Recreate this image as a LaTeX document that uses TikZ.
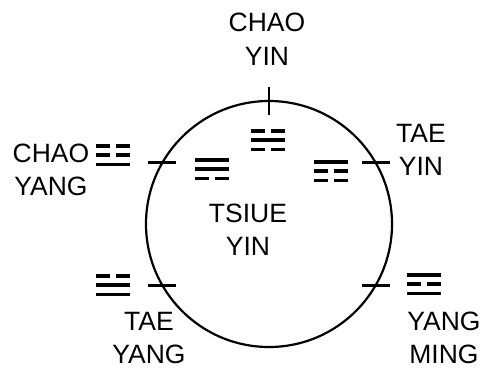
\documentclass[tikz,border=0pt]{standalone}
\usepackage{fontspec}
\setmainfont{Liberation Sans}
\usetikzlibrary{calc}

% one trigram: centre, then top, middle, bottom line (1 whole, 0 broken)
\newcommand{\trigram}[4]{%
  \foreach \lvl/\kind in {-1/#2,0/#3,1/#4}{%
    \ifnum\kind=1
      \draw[yao] ($(#1)+(-17,9.4*\lvl)$) -- ++(34,0);
    \else
      \draw[yao] ($(#1)+(-17,9.4*\lvl)$) -- ++(14,0);
      \draw[yao] ($(#1)+(3,9.4*\lvl)$) -- ++(14,0);
    \fi}}

\begin{document}
\begin{tikzpicture}[x=1pt,y=-1pt,
  lbl/.style={align=center,font=\fontsize{26.5}{33}\selectfont,inner sep=0pt,anchor=base},
  yao/.style={line width=3.8pt},
  notch/.style={line width=2.2pt}]
\useasboundingbox (0,0) rectangle (486,369);
% Ring and its marks
\node[circle,draw,line width=2.2pt,minimum size=246pt,inner sep=0pt,outer sep=0pt]
  (ring) at (269,224) {};
\draw[notch] ($(ring.90)+(0,-14)$) -- ($(ring.90)+(0,14)$);
\foreach \ang in {30,150,210,330}
  \draw[notch] ($(ring.\ang)+(-14,0)$) -- ($(ring.\ang)+(14,0)$);
% Trigrams
\trigram{268,140}{0}{1}{0}
\trigram{113,155}{0}{0}{1}
\trigram{212,169}{1}{1}{0}
\trigram{331,171}{1}{0}{0}
\trigram{113,285}{0}{1}{1}
\trigram{424,284}{1}{0}{1}
% Labels (base = last line)
\node[lbl] (chaoyin) at (267,65) {CHAO\\YIN};
\node[lbl] (chaoyang) at (51,195) {CHAO\\YANG};
\node[lbl] (taeyin) at (421,175) {TAE\\YIN};
\node[lbl] (tsiueyin) at (248,255) {TSIUE\\YIN};
\node[lbl] (taeyang) at (149,363) {TAE\\YANG};
\node[lbl] (yangming) at (444,363) {YANG\\MING};
\end{tikzpicture}
\end{document}
